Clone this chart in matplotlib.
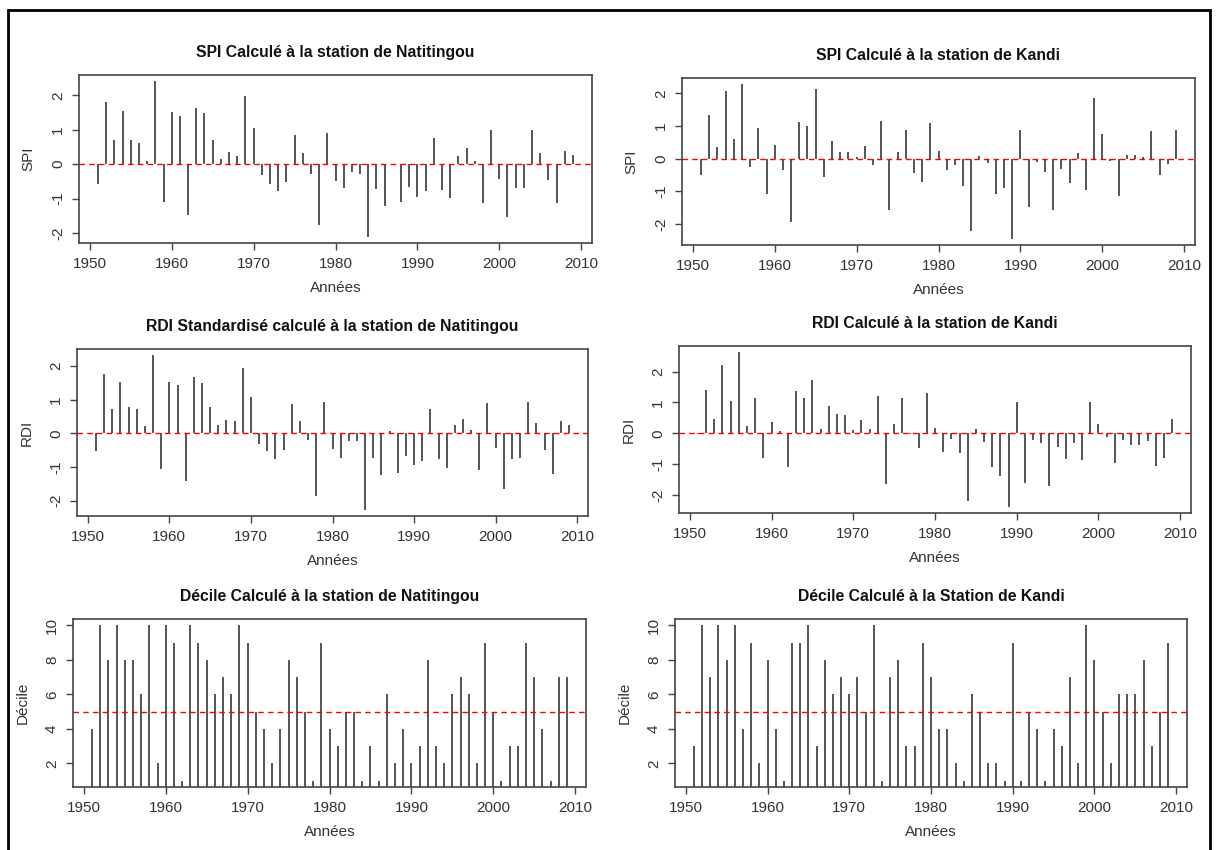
import matplotlib
matplotlib.use("Agg")
import matplotlib.pyplot as plt
from matplotlib.patches import Rectangle

plt.rcParams['font.family'] = ['Liberation Sans', 'DejaVu Sans']

years = list(range(1951, 2010))

spi_natitingou = [-0.57, 1.81, 0.69, 1.54, 0.69, 0.61, 0.08, 2.41, -1.09, 1.51,
                  1.39, -1.49, 1.62, 1.48, 0.69, 0.16, 0.36, 0.24, 1.99, 1.05,
                  -0.32, -0.57, -0.79, -0.51, 0.86, 0.33, -0.28, -1.78, 0.90, -0.48,
                  -0.70, -0.22, -0.28, -2.11, -0.72, -1.21, -0.02, -1.11, -0.67, -0.96,
                  -0.79, 0.75, -0.75, -0.99, 0.23, 0.47, 0.09, -1.13, 0.98, -0.42,
                  -1.54, -0.70, -0.70, 1.00, 0.33, -0.46, -1.13, 0.39, 0.27]

spi_kandi = [-0.50, 1.33, 0.34, 2.07, 0.60, 2.28, -0.25, 0.95, -1.09, 0.43,
             -0.35, -1.93, 1.11, 1.01, 2.13, -0.58, 0.54, 0.19, 0.19, 0.05,
             0.37, -0.20, 1.16, -1.58, 0.19, 0.89, -0.45, -0.72, 1.10, 0.24,
             -0.34, -0.20, -0.84, -2.22, 0.07, -0.13, -1.10, -0.89, -2.46, 0.89,
             -1.48, -0.11, -0.41, -1.58, -0.32, -0.75, 0.18, -0.96, 1.85, 0.76,
             -0.06, -1.14, 0.10, 0.10, 0.06, 0.86, -0.49, -0.16, 0.89]

rdi_natitingou = [-0.51, 1.76, 0.73, 1.52, 0.78, 0.72, 0.21, 2.32, -1.05, 1.52,
                  1.44, -1.41, 1.66, 1.49, 0.78, 0.26, 0.40, 0.36, 1.94, 1.07,
                  -0.31, -0.51, -0.75, -0.49, 0.87, 0.36, -0.19, -1.87, 0.93, -0.46,
                  -0.72, -0.24, -0.24, -2.27, -0.73, -1.24, 0.08, -1.18, -0.67, -0.93,
                  -0.82, 0.72, -0.75, -1.02, 0.26, 0.42, 0.09, -1.10, 0.90, -0.43,
                  -1.64, -0.75, -0.72, 0.93, 0.30, -0.49, -1.21, 0.36, 0.24]

rdi_kandi = [-0.01, 1.41, 0.46, 2.23, 1.05, 2.63, 0.23, 1.16, -0.80, 0.36,
             0.08, -1.10, 1.38, 1.13, 1.73, 0.14, 0.88, 0.64, 0.60, 0.11,
             0.43, 0.14, 1.20, -1.64, 0.30, 1.16, -0.01, -0.46, 1.30, 0.17,
             -0.61, -0.18, -0.64, -2.18, 0.14, -0.27, -1.08, -1.38, -2.38, 1.01,
             -1.61, -0.20, -0.30, -1.71, -0.43, -0.82, -0.30, -0.85, 1.01, 0.29,
             -0.13, -0.97, -0.20, -0.37, -0.37, -0.24, -1.05, -0.80, 0.45]

decile_natitingou = [4, 10, 8, 10, 8, 8, 6, 10, 2, 10,
                     9, 1, 10, 9, 8, 6, 7, 6, 10, 9,
                     5, 4, 2, 4, 8, 7, 5, 1, 9, 4,
                     3, 5, 5, 1, 3, 1, 6, 2, 4, 2,
                     3, 8, 3, 2, 6, 7, 6, 2, 9, 5,
                     1, 3, 3, 9, 7, 4, 1, 7, 7]

decile_kandi = [3, 10, 7, 10, 8, 10, 4, 9, 2, 8,
                4, 1, 9, 9, 10, 3, 8, 6, 7, 6,
                7, 5, 10, 1, 7, 8, 3, 3, 9, 7,
                4, 4, 2, 1, 6, 5, 2, 2, 1, 9,
                1, 5, 4, 1, 4, 3, 7, 2, 10, 8,
                5, 2, 6, 6, 6, 8, 3, 5, 9]

W, H = 1218, 850
fig = plt.figure(figsize=(W / 100, H / 100), dpi=100)

panels = [
    ((79, 75, 592, 243), spi_natitingou, "SPI Calculé à la station de Natitingou", "SPI", 0, [-2, -1, 0, 1, 2]),
    ((682, 78, 1195, 245), spi_kandi, "SPI Calculé à la station de Kandi", "SPI", 0, [-2, -1, 0, 1, 2]),
    ((77, 349, 588, 516), rdi_natitingou, "RDI Standardisé calculé à la station de Natitingou", "RDI", 0, [-2, -1, 0, 1, 2]),
    ((679, 346, 1191, 513), rdi_kandi, "RDI Calculé à la station de Kandi", "RDI", 0, [-2, -1, 0, 1, 2]),
    ((73, 619, 586, 787), decile_natitingou, "Décile Calculé à la station de Natitingou", "Décile", 5, [2, 4, 6, 8, 10]),
    ((675, 619, 1187, 787), decile_kandi, "Décile Calculé à la Station de Kandi", "Décile", 5, [2, 4, 6, 8, 10]),
]

axis_col = "#444444"
text_col = "#333333"
fs = 11

for (x0, y0, x1, y1), vals, title, ylab, ref, yt in panels:
    ax = fig.add_axes([x0 / W, 1 - y1 / H, (x1 - x0) / W, (y1 - y0) / H])
    ax.vlines(years, 0, vals, color="#555555", linewidth=1.4)
    ax.axhline(ref, color="red", linestyle=(0, (4, 3)), linewidth=1.0)
    lo, hi = min(vals), max(vals)
    pad = 0.04 * (hi - lo)
    ax.set_ylim(lo - pad, hi + pad)
    xr = years[-1] - years[0]
    ax.set_xlim(years[0] - 0.04 * xr, years[-1] + 0.04 * xr)
    ax.set_xticks([1950, 1960, 1970, 1980, 1990, 2000, 2010])
    ax.set_yticks(yt)
    ax.set_yticklabels([str(v) for v in yt], rotation=90, va="center")
    ax.tick_params(axis="both", direction="out", length=5, width=1.0,
                   color=axis_col, labelcolor=text_col, labelsize=fs)
    ax.tick_params(axis="x", pad=5)
    ax.tick_params(axis="y", pad=5)
    for s in ax.spines.values():
        s.set_color(axis_col)
        s.set_linewidth(1.2)
    ax.set_title(title, fontsize=11.3, fontweight="bold", color="#111111", pad=13)
    ax.set_xlabel("Années", fontsize=fs, color=text_col, labelpad=7)
    ax.set_ylabel(ylab, fontsize=fs, color=text_col, labelpad=11)

# outer frame of the screenshot
fig.patches.append(Rectangle((8 / W, -0.01), (1210 - 8) / W, 1 - 10 / H + 0.01,
                             transform=fig.transFigure, fill=False,
                             edgecolor="black", linewidth=2))

fig.savefig("out.png", dpi=100)
